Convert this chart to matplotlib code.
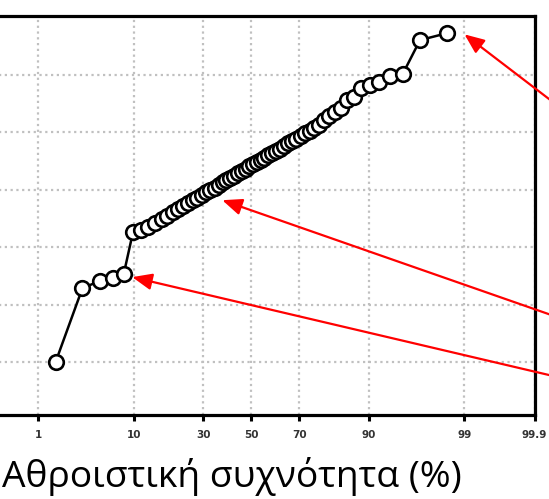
import numpy as np
import matplotlib
matplotlib.use("Agg")
import matplotlib.pyplot as plt
from statistics import NormalDist

# ---- data ----
cum_freq = [1.64, 3.28, 4.92, 6.56, 8.20, 9.84, 11.48, 13.11, 14.75, 16.39,
            18.03, 19.67, 21.31, 22.95, 24.59, 26.23, 27.87, 29.51, 31.15, 32.79,
            34.43, 36.07, 37.70, 39.34, 40.98, 42.62, 44.26, 45.90, 47.54, 49.18,
            50.82, 52.46, 54.10, 55.74, 57.38, 59.02, 60.66, 62.30, 63.93, 65.57,
            67.21, 68.85, 70.49, 72.13, 73.77, 75.41, 77.05, 78.69, 80.33, 81.97,
            83.61, 85.25, 86.89, 88.52, 90.16, 91.80, 93.44, 95.08, 96.72, 98.36]
values = [1.00, 2.29, 2.41, 2.46, 2.53, 3.26, 3.30, 3.35, 3.43, 3.49,
          3.55, 3.61, 3.66, 3.72, 3.77, 3.82, 3.86, 3.91, 3.96, 4.00,
          4.04, 4.09, 4.13, 4.17, 4.21, 4.25, 4.29, 4.33, 4.37, 4.41,
          4.45, 4.48, 4.52, 4.56, 4.60, 4.64, 4.68, 4.72, 4.76, 4.81,
          4.85, 4.89, 4.94, 4.99, 5.03, 5.08, 5.13, 5.22, 5.29, 5.36,
          5.43, 5.56, 5.62, 5.77, 5.83, 5.88, 5.98, 6.02, 6.61, 6.73]
x_ticks = [1, 10, 30, 50, 70, 90, 99, 99.9]
x_tick_labels = ["1", "10", "30", "50", "70", "90", "99", "99.9"]
y_grid = [1, 2, 3, 4, 5, 6]
xlabel = "Αθροιστική συχνότητα (%)"
# arrow tips (cum. freq %, value)
arrow_tips_x = [99.0, 37.6, 9.7]
arrow_tips_y = [6.71, 3.82, 2.48]

nd = NormalDist()
_ppf = np.vectorize(nd.inv_cdf, otypes=[float])
_cdf = np.vectorize(nd.cdf, otypes=[float])

def fwd(p):
    p = np.clip(np.asarray(p, dtype=float) / 100.0, 1e-9, 1 - 1e-9)
    return _ppf(p)

def inv(z):
    return _cdf(np.asarray(z, dtype=float)) * 100.0

W, H = 549, 499
fig = plt.figure(figsize=(W / 100, H / 100), dpi=100)
left_px, right_px, top_px, bot_px = -32, 534.5, 16, 415
ax = fig.add_axes([left_px / W, (H - bot_px) / H, (right_px - left_px) / W, (bot_px - top_px) / H])

ax.set_xscale("function", functions=(fwd, inv))
ax.set_xlim(0.1, 99.9)
ax.set_ylim(0.077, 7.03)

ax.set_xticks(x_ticks)
ax.set_xticklabels(x_tick_labels)
ax.xaxis.set_minor_locator(matplotlib.ticker.NullLocator())
ax.set_yticks(y_grid)
ax.set_yticklabels([])
ax.tick_params(axis="y", length=0)
ax.tick_params(axis="x", direction="out", length=4, width=2.2, pad=7,
               labelsize=7.5, labelcolor="#333333")
for lab in ax.get_xticklabels():
    lab.set_fontweight("bold")

ax.grid(True, color="#c0c0c0", linewidth=1.6, linestyle=(0, (1, 1.6)))
ax.set_axisbelow(True)
for s in ax.spines.values():
    s.set_linewidth(2.3)
    s.set_color("black")

ax.plot(cum_freq, values, color="black", lw=1.8, marker="o", ms=10.5,
        mfc="white", mec="black", mew=1.9, zorder=3)

tails = [(600, H - 138), (600, H - 332), (600, H - 387)]
for tx, ty, tail in zip(arrow_tips_x, arrow_tips_y, tails):
    ax.annotate("", xy=(tx, ty), xycoords="data", xytext=tail,
                textcoords="figure pixels", annotation_clip=False,
                arrowprops=dict(arrowstyle="-|>,head_length=0.6,head_width=0.25",
                                color="#ff0000", lw=1.6, mutation_scale=20,
                                shrinkA=0, shrinkB=0), zorder=5)

fig.text(2 / W, (H - 487) / H, xlabel, fontsize=26.8, family=["Open Sans", "DejaVu Sans"],
         ha="left", va="baseline", color="black")

fig.savefig("out.png", dpi=100)
